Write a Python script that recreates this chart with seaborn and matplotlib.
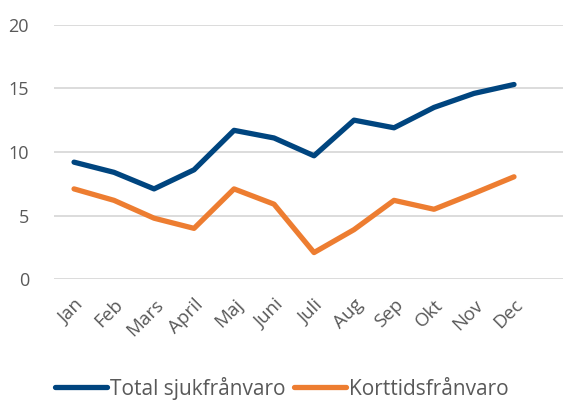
import matplotlib
matplotlib.use("Agg")
import matplotlib.pyplot as plt
import seaborn as sns
import pandas as pd

months = ["Jan", "Feb", "Mars", "April", "Maj", "Juni", "Juli", "Aug",
          "Sep", "Okt", "Nov", "Dec"]
total = [9.2, 8.4, 7.1, 8.6, 11.7, 11.1, 9.7, 12.5, 11.9, 13.5, 14.6, 15.3]
korttid = [7.1, 6.2, 4.8, 4.0, 7.1, 5.9, 2.1, 3.9, 6.2, 5.5, 6.75, 8.05]
series = ["Total sjukfrånvaro", "Korttidsfrånvaro"]
colors = ["#00457F", "#ED7D31"]

df = pd.DataFrame({
    "x": list(range(len(months))) * 2,
    "value": total + korttid,
    "serie": [series[0]] * len(months) + [series[1]] * len(months),
})

sns.set_style("white")
plt.rcParams["font.family"] = ["Open Sans", "DejaVu Sans"]

fig = plt.figure(figsize=(5.63, 4.01), dpi=100)
ax = fig.add_axes([0.096, 0.3035, 0.904, 0.635])

sns.lineplot(data=df, x="x", y="value", hue="serie", palette=colors,
             linewidth=3.8, ax=ax, legend=False, solid_capstyle="round")

ax.set_xlim(-0.5, 12.225)
ax.set_ylim(0, 20)
ax.set_yticks([0, 5, 10, 15, 20])
ax.set_xticks(range(len(months)))
ax.set_xticklabels(months, rotation=45, ha="right", rotation_mode="anchor")
ax.tick_params(axis="both", length=0, labelsize=13, colors="#595959")
ax.tick_params(axis="x", pad=12, labelsize=13.5)
ax.tick_params(axis="y", pad=18)
ax.grid(axis="y", color="#D9D9D9", linewidth=1.3)
ax.set_xlabel("")
ax.set_ylabel("")
sns.despine(ax=ax, left=True, bottom=True)

handles = [plt.Line2D([], [], color=c, linewidth=3.8, solid_capstyle="round")
           for c in colors]
fig.legend(handles, series, loc="center", bbox_to_anchor=(0.5, 0.032),
           ncol=2, frameon=False, fontsize=15, handlelength=2.5,
           handletextpad=0.14, columnspacing=0.4, labelcolor="#595959")

fig.savefig("out.png", dpi=100)
